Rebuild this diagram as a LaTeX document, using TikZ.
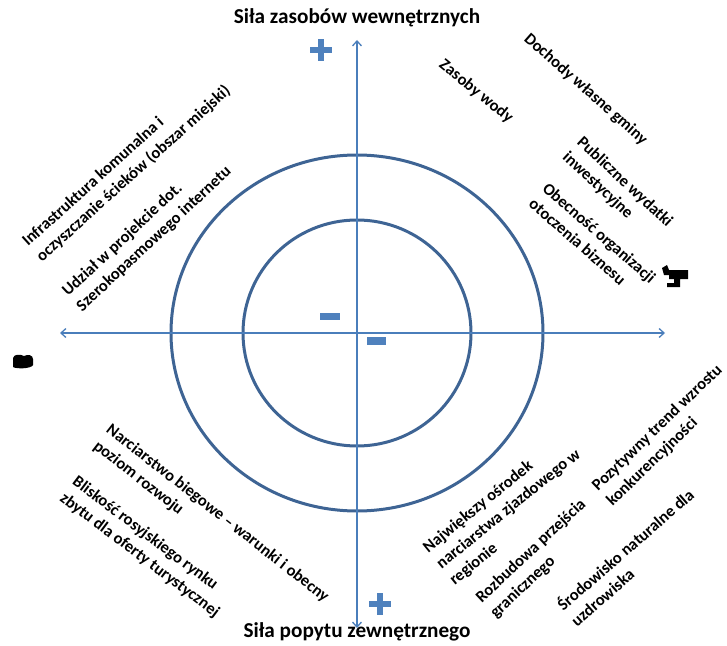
\documentclass[tikz,border=0pt]{standalone}
\usepackage{fontspec}
\setmainfont{Carlito}
\usetikzlibrary{arrows.meta}
\definecolor{ringblue}{HTML}{3E6494}
\definecolor{axisblue}{HTML}{4A7EBB}
\definecolor{signblue}{HTML}{4F81BD}
\newcommand{\mlines}[1]{\begin{tabular}[t]{@{}l@{}}#1\end{tabular}}
\tikzset{
  ring/.style={draw=ringblue,line width=3bp},
  axis/.style={draw=axisblue,line width=1.3bp,{Straight Barb[length=5bp,width=9bp]}-{Straight Barb[length=5bp,width=9bp]}},
  title/.style={font=\fontsize{21.3}{25}\selectfont\bfseries,inner sep=0pt},
  lab/.style={font=\fontsize{16.6}{21}\selectfont\bfseries,inner sep=0pt,anchor=base west},
  sign/.style={fill=signblue,draw=none},
  blob/.style={fill=black,draw=none}
}
\begin{document}
\begin{tikzpicture}[x=1bp,y=-1bp]
\useasboundingbox (0,0) rectangle (727,646);
% centre and axis ends
\coordinate (c) at (357,333);
\coordinate (top) at (357,40);
\coordinate (bot) at (357,628);
\coordinate (left) at (60,333);
\coordinate (right) at (665,333);
% rings
\draw[ring] (c) ellipse [x radius=186,y radius=178];
\draw[ring] (c) ellipse [x radius=114,y radius=113];
% axes
\draw[axis] (bot) -- (top);
\draw[axis] (left) -- (right);
% signs
\fill[sign] (310,47) rectangle (332,53);
\fill[sign] (318,39) rectangle (324,61);
\fill[sign] (369,601) rectangle (391,607);
\fill[sign] (377,593) rectangle (383,615);
\fill[sign] (320,313) rectangle (340,320);
\fill[sign] (367,337) rectangle (386,345);
% titles
\node[title] (ttop) at (357,18) {Siła zasobów wewnętrznych};
\node[title] (tbot) at (357,632) {Siła popytu zewnętrznego};
% upper left
\node[lab,rotate=42] (ul1) at (28,247) {\mlines{Infrastruktura komunalna i\\oczyszczanie ścieków (obszar miejski)}};
\node[lab,rotate=43] (ul2) at (68,297) {\mlines{Udział w projekcie dot.\\Szerokopasmowego internetu}};
% upper right
\node[lab,rotate=-39] (ur1) at (438.3,66.8) {Zasoby wody};
\node[lab,rotate=-41.5] (ur2) at (523.1,40) {Dochody własne gminy};
\node[lab,rotate=-43] (ur3) at (576.1,143.1) {\mlines{Publiczne wydatki\\inwestycyjne}};
\node[lab,rotate=-41] (ur4) at (541.4,190) {\mlines{Obecność organizacji\\otoczenia biznesu}};
% lower left
\node[lab,rotate=-38] (ll1) at (105.3,431.5) {\mlines{Narciarstwo biegowe – warunki i obecny\\poziom rozwoju}};
\node[lab,rotate=-37] (ll2) at (71.5,483.6) {\mlines{Bliskość rosyjskiego rynku\\zbytu dla oferty turystycznej}};
% lower right
\node[lab,rotate=39] (lr1) at (428.3,553.3) {\mlines{Największy ośrodek\\narciarstwa zjazdowego w\\regionie}};
\node[lab,rotate=43] (lr2) at (481.7,603.3) {\mlines{Rozbudowa przejścia\\granicznego}};
\node[lab,rotate=44] (lr3) at (598,491.7) {\mlines{Pozytywny trend wzrostu\\konkurencyjności}};
\node[lab,rotate=41] (lr4) at (563.3,611.7) {\mlines{Środowisko naturalne dla\\uzdrowiska}};
% garbled glyphs at axis ends
\fill[blob] (13,358) .. controls (14,354) and (20,354) .. (24,356) .. controls (28,354) and (33,355) .. (33,359) -- (33,365) .. controls (31,369) and (16,369) .. (13,367) -- cycle;
\fill[blob] (662,268) -- (667,265) -- (669,270) -- (688,270) -- (688,279) -- (680,279) -- (680,287) -- (667,287) -- (667,283) -- (674,283) -- (674,279) -- (669,279) -- (669,275) -- (664,275) -- cycle;
\end{tikzpicture}
\end{document}
